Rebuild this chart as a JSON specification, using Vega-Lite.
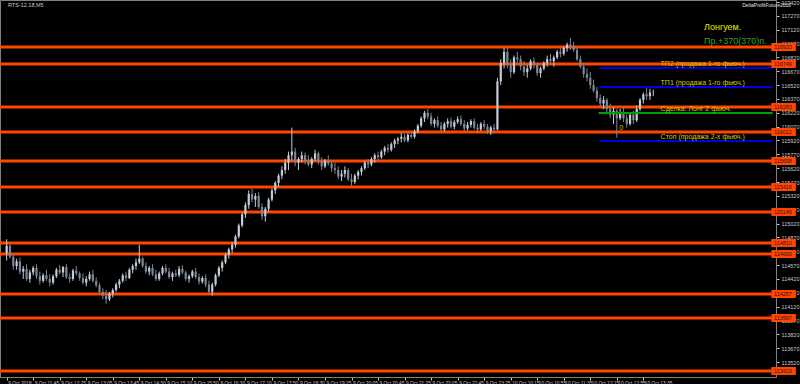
{
 "$schema": "https://vega.github.io/schema/vega-lite/v6.json",
 "width": 776, "height": 377,
 "autosize": {"type": "none"},
 "padding": {"left": 0, "top": 0, "right": 24, "bottom": 7},
 "background": "#000000",
 "config": {"view": {"stroke": "#808080", "strokeWidth": 1}, "font": "Liberation Sans",
  "axis": {"labelOverlap": false, "labelFlush": false, "labelBound": false, "grid": false, "title": null, "tickCount": 100,
   "labelColor": "#c8c8c8", "tickColor": "#c8c8c8", "tickSize": 3, "domainColor": "#808080"}},
 "datasets": {
  "candles": [
   {"i":0,"o":114700,"h":114850,"l":114620,"c":114780},{"i":1,"o":114780,"h":114800,"l":114640,"c":114660},{"i":2,"o":114660,"h":114700,"l":114520,"c":114560},{"i":3,"o":114560,"h":114640,"l":114520,"c":114610},
   {"i":4,"o":114610,"h":114650,"l":114470,"c":114500},{"i":5,"o":114500,"h":114560,"l":114420,"c":114530},{"i":6,"o":114530,"h":114580,"l":114400,"c":114420},{"i":7,"o":114420,"h":114520,"l":114380,"c":114490},
   {"i":8,"o":114490,"h":114560,"l":114460,"c":114540},{"i":9,"o":114540,"h":114580,"l":114420,"c":114450},{"i":10,"o":114450,"h":114500,"l":114360,"c":114400},{"i":11,"o":114400,"h":114480,"l":114380,"c":114460},
   {"i":12,"o":114460,"h":114520,"l":114400,"c":114420},{"i":13,"o":114420,"h":114470,"l":114340,"c":114380},{"i":14,"o":114380,"h":114470,"l":114360,"c":114450},{"i":15,"o":114450,"h":114540,"l":114430,"c":114520},
   {"i":16,"o":114520,"h":114570,"l":114470,"c":114490},{"i":17,"o":114490,"h":114560,"l":114440,"c":114550},{"i":18,"o":114550,"h":114580,"l":114420,"c":114440},{"i":19,"o":114440,"h":114480,"l":114380,"c":114420},
   {"i":20,"o":114420,"h":114530,"l":114400,"c":114510},{"i":21,"o":114510,"h":114560,"l":114460,"c":114480},{"i":22,"o":114480,"h":114500,"l":114400,"c":114430},{"i":23,"o":114430,"h":114480,"l":114360,"c":114380},
   {"i":24,"o":114380,"h":114450,"l":114340,"c":114420},{"i":25,"o":114420,"h":114500,"l":114400,"c":114470},{"i":26,"o":114470,"h":114520,"l":114380,"c":114400},{"i":27,"o":114400,"h":114440,"l":114330,"c":114350},
   {"i":28,"o":114350,"h":114380,"l":114260,"c":114280},{"i":29,"o":114280,"h":114320,"l":114200,"c":114240},{"i":30,"o":114240,"h":114300,"l":114150,"c":114200},{"i":31,"o":114200,"h":114280,"l":114180,"c":114260},
   {"i":32,"o":114260,"h":114320,"l":114220,"c":114300},{"i":33,"o":114300,"h":114380,"l":114280,"c":114360},{"i":34,"o":114360,"h":114420,"l":114320,"c":114400},{"i":35,"o":114400,"h":114480,"l":114380,"c":114460},
   {"i":36,"o":114460,"h":114500,"l":114400,"c":114430},{"i":37,"o":114430,"h":114540,"l":114420,"c":114520},{"i":38,"o":114520,"h":114580,"l":114480,"c":114560},{"i":39,"o":114560,"h":114640,"l":114520,"c":114600},
   {"i":40,"o":114600,"h":114790,"l":114580,"c":114640},{"i":41,"o":114640,"h":114660,"l":114540,"c":114560},{"i":42,"o":114560,"h":114600,"l":114480,"c":114500},{"i":43,"o":114500,"h":114560,"l":114460,"c":114540},
   {"i":44,"o":114540,"h":114580,"l":114450,"c":114470},{"i":45,"o":114470,"h":114520,"l":114400,"c":114420},{"i":46,"o":114420,"h":114500,"l":114400,"c":114480},{"i":47,"o":114480,"h":114560,"l":114460,"c":114540},
   {"i":48,"o":114540,"h":114580,"l":114480,"c":114500},{"i":49,"o":114500,"h":114540,"l":114420,"c":114440},{"i":50,"o":114440,"h":114500,"l":114400,"c":114480},{"i":51,"o":114480,"h":114520,"l":114440,"c":114460},
   {"i":52,"o":114460,"h":114560,"l":114440,"c":114530},{"i":53,"o":114530,"h":114570,"l":114470,"c":114490},{"i":54,"o":114490,"h":114510,"l":114400,"c":114420},{"i":55,"o":114420,"h":114470,"l":114380,"c":114450},
   {"i":56,"o":114450,"h":114520,"l":114430,"c":114500},{"i":57,"o":114500,"h":114540,"l":114420,"c":114440},{"i":58,"o":114440,"h":114480,"l":114360,"c":114390},{"i":59,"o":114390,"h":114450,"l":114370,"c":114430},
   {"i":60,"o":114430,"h":114470,"l":114330,"c":114360},{"i":61,"o":114360,"h":114400,"l":114250,"c":114280},{"i":62,"o":114280,"h":114380,"l":114240,"c":114360},{"i":63,"o":114360,"h":114480,"l":114340,"c":114460},
   {"i":64,"o":114460,"h":114560,"l":114440,"c":114540},{"i":65,"o":114540,"h":114620,"l":114500,"c":114600},{"i":66,"o":114600,"h":114700,"l":114580,"c":114680},{"i":67,"o":114680,"h":114760,"l":114640,"c":114740},
   {"i":68,"o":114740,"h":114820,"l":114700,"c":114790},{"i":69,"o":114790,"h":114900,"l":114760,"c":114880},{"i":70,"o":114880,"h":115020,"l":114860,"c":115000},{"i":71,"o":115000,"h":115140,"l":114980,"c":115120},
   {"i":72,"o":115120,"h":115250,"l":115080,"c":115220},{"i":73,"o":115220,"h":115380,"l":115180,"c":115340},{"i":74,"o":115340,"h":115400,"l":115250,"c":115280},{"i":75,"o":115280,"h":115350,"l":115200,"c":115320},
   {"i":76,"o":115320,"h":115360,"l":115180,"c":115200},{"i":77,"o":115200,"h":115240,"l":115060,"c":115100},{"i":78,"o":115100,"h":115200,"l":115040,"c":115180},{"i":79,"o":115180,"h":115300,"l":115150,"c":115280},
   {"i":80,"o":115280,"h":115400,"l":115260,"c":115380},{"i":81,"o":115380,"h":115480,"l":115340,"c":115460},{"i":82,"o":115460,"h":115560,"l":115420,"c":115540},{"i":83,"o":115540,"h":115640,"l":115500,"c":115600},
   {"i":84,"o":115600,"h":115720,"l":115560,"c":115680},{"i":85,"o":115680,"h":115800,"l":115600,"c":115760},{"i":86,"o":115760,"h":116060,"l":115700,"c":115800},{"i":87,"o":115800,"h":115840,"l":115640,"c":115680},
   {"i":88,"o":115680,"h":115740,"l":115600,"c":115720},{"i":89,"o":115720,"h":115800,"l":115680,"c":115760},{"i":90,"o":115760,"h":115790,"l":115660,"c":115700},{"i":91,"o":115700,"h":115760,"l":115640,"c":115660},
   {"i":92,"o":115660,"h":115740,"l":115620,"c":115720},{"i":93,"o":115720,"h":115820,"l":115700,"c":115780},{"i":94,"o":115780,"h":115800,"l":115660,"c":115690},{"i":95,"o":115690,"h":115740,"l":115600,"c":115640},
   {"i":96,"o":115640,"h":115720,"l":115620,"c":115700},{"i":97,"o":115700,"h":115760,"l":115650,"c":115670},{"i":98,"o":115670,"h":115700,"l":115580,"c":115620},{"i":99,"o":115620,"h":115680,"l":115560,"c":115600},
   {"i":100,"o":115600,"h":115640,"l":115500,"c":115530},{"i":101,"o":115530,"h":115600,"l":115480,"c":115560},{"i":102,"o":115560,"h":115640,"l":115520,"c":115600},{"i":103,"o":115600,"h":115620,"l":115480,"c":115500},
   {"i":104,"o":115500,"h":115560,"l":115430,"c":115470},{"i":105,"o":115470,"h":115560,"l":115450,"c":115540},{"i":106,"o":115540,"h":115600,"l":115500,"c":115580},{"i":107,"o":115580,"h":115640,"l":115540,"c":115620},
   {"i":108,"o":115620,"h":115700,"l":115600,"c":115680},{"i":109,"o":115680,"h":115720,"l":115620,"c":115660},{"i":110,"o":115660,"h":115740,"l":115640,"c":115720},{"i":111,"o":115720,"h":115780,"l":115680,"c":115760},
   {"i":112,"o":115760,"h":115800,"l":115700,"c":115740},{"i":113,"o":115740,"h":115820,"l":115720,"c":115800},{"i":114,"o":115800,"h":115860,"l":115760,"c":115840},{"i":115,"o":115840,"h":115880,"l":115790,"c":115820},
   {"i":116,"o":115820,"h":115900,"l":115800,"c":115880},{"i":117,"o":115880,"h":115940,"l":115840,"c":115920},{"i":118,"o":115920,"h":115960,"l":115880,"c":115940},{"i":119,"o":115940,"h":116000,"l":115900,"c":115960},
   {"i":120,"o":115960,"h":115990,"l":115900,"c":115920},{"i":121,"o":115920,"h":116000,"l":115900,"c":115980},{"i":122,"o":115980,"h":116020,"l":115940,"c":115960},{"i":123,"o":115960,"h":116040,"l":115940,"c":116020},
   {"i":124,"o":116020,"h":116100,"l":116000,"c":116080},{"i":125,"o":116080,"h":116180,"l":116060,"c":116160},{"i":126,"o":116160,"h":116240,"l":116120,"c":116220},{"i":127,"o":116220,"h":116260,"l":116150,"c":116180},
   {"i":128,"o":116180,"h":116220,"l":116080,"c":116100},{"i":129,"o":116100,"h":116160,"l":116060,"c":116140},{"i":130,"o":116140,"h":116180,"l":116060,"c":116080},{"i":131,"o":116080,"h":116120,"l":116000,"c":116040},
   {"i":132,"o":116040,"h":116120,"l":116020,"c":116100},{"i":133,"o":116100,"h":116160,"l":116060,"c":116130},{"i":134,"o":116130,"h":116170,"l":116050,"c":116070},{"i":135,"o":116070,"h":116140,"l":116040,"c":116120},
   {"i":136,"o":116120,"h":116180,"l":116100,"c":116150},{"i":137,"o":116150,"h":116190,"l":116080,"c":116100},{"i":138,"o":116100,"h":116140,"l":116020,"c":116050},{"i":139,"o":116050,"h":116120,"l":116030,"c":116090},
   {"i":140,"o":116090,"h":116150,"l":116060,"c":116130},{"i":141,"o":116130,"h":116160,"l":116040,"c":116060},{"i":142,"o":116060,"h":116100,"l":116000,"c":116040},{"i":143,"o":116040,"h":116120,"l":116020,"c":116100},
   {"i":144,"o":116100,"h":116140,"l":116040,"c":116070},{"i":145,"o":116070,"h":116100,"l":115990,"c":116020},{"i":146,"o":116020,"h":116080,"l":115980,"c":116060},{"i":147,"o":116060,"h":116100,"l":116000,"c":116040},
   {"i":148,"o":116040,"h":116600,"l":116030,"c":116560},{"i":149,"o":116560,"h":116800,"l":116520,"c":116760},{"i":150,"o":116760,"h":116920,"l":116700,"c":116880},{"i":151,"o":116880,"h":116920,"l":116700,"c":116740},
   {"i":152,"o":116740,"h":116800,"l":116600,"c":116660},{"i":153,"o":116660,"h":116840,"l":116640,"c":116820},{"i":154,"o":116820,"h":116880,"l":116760,"c":116800},{"i":155,"o":116800,"h":116840,"l":116680,"c":116720},
   {"i":156,"o":116720,"h":116780,"l":116620,"c":116660},{"i":157,"o":116660,"h":116740,"l":116600,"c":116700},{"i":158,"o":116700,"h":116800,"l":116680,"c":116780},{"i":159,"o":116780,"h":116820,"l":116700,"c":116740},
   {"i":160,"o":116740,"h":116760,"l":116620,"c":116650},{"i":161,"o":116650,"h":116720,"l":116600,"c":116700},{"i":162,"o":116700,"h":116780,"l":116680,"c":116760},{"i":163,"o":116760,"h":116840,"l":116720,"c":116800},
   {"i":164,"o":116800,"h":116860,"l":116740,"c":116780},{"i":165,"o":116780,"h":116840,"l":116720,"c":116820},{"i":166,"o":116820,"h":116900,"l":116800,"c":116880},{"i":167,"o":116880,"h":116920,"l":116820,"c":116860},
   {"i":168,"o":116860,"h":116940,"l":116840,"c":116920},{"i":169,"o":116920,"h":116980,"l":116880,"c":116960},{"i":170,"o":116960,"h":117030,"l":116900,"c":116940},{"i":171,"o":116940,"h":116990,"l":116880,"c":116900},
   {"i":172,"o":116900,"h":116940,"l":116780,"c":116800},{"i":173,"o":116800,"h":116840,"l":116700,"c":116720},{"i":174,"o":116720,"h":116760,"l":116600,"c":116640},{"i":175,"o":116640,"h":116700,"l":116560,"c":116600},
   {"i":176,"o":116600,"h":116660,"l":116480,"c":116520},{"i":177,"o":116520,"h":116580,"l":116440,"c":116460},{"i":178,"o":116460,"h":116500,"l":116340,"c":116380},{"i":179,"o":116380,"h":116420,"l":116280,"c":116320},
   {"i":180,"o":116320,"h":116400,"l":116260,"c":116360},{"i":181,"o":116360,"h":116380,"l":116220,"c":116260},{"i":182,"o":116260,"h":116320,"l":116160,"c":116200},{"i":183,"o":116200,"h":116280,"l":116100,"c":116240},
   {"i":184,"o":116240,"h":116260,"l":115950,"c":116160},{"i":185,"o":116160,"h":116260,"l":116140,"c":116220},{"i":186,"o":116220,"h":116280,"l":116120,"c":116160},{"i":187,"o":116160,"h":116200,"l":116060,"c":116100},
   {"i":188,"o":116100,"h":116220,"l":116080,"c":116200},{"i":189,"o":116200,"h":116240,"l":116100,"c":116140},{"i":190,"o":116140,"h":116300,"l":116120,"c":116260},{"i":191,"o":116260,"h":116380,"l":116240,"c":116360},
   {"i":192,"o":116360,"h":116440,"l":116320,"c":116420},{"i":193,"o":116420,"h":116500,"l":116360,"c":116400},{"i":194,"o":116400,"h":116480,"l":116360,"c":116440},{"i":195,"o":116440,"h":116470,"l":116400,"c":116440}
  ],
  "levels": [{"p":116933},{"p":116749},{"p":116283},{"p":116012},{"p":115698},{"p":115416},{"p":115145},{"p":114810},{"p":114690},{"p":114257},{"p":113997},{"p":113423}],
  "blue": [{"p":116705,"t":"ТП2 (продажа 1-го фьюч.)"},{"p":116500,"t":"ТП1 (продажа 1-го фьюч.)"},{"p":115915,"t":"Стоп (продажа 2-х фьюч.)"}],
  "green": [{"p":116218,"t":"Сделка: Лонг 2 фьюч."}]
 },
 "layer": [
  {"data": {"name": "levels"}, "mark": {"type": "rule", "color": "#ff4500", "strokeWidth": 3},
   "encoding": {"y": {"field": "p", "type": "quantitative",
     "scale": {"domain": [113358, 117442], "nice": false, "zero": false},
     "axis": {"orient": "right", "format": "d", "tickCount": 100,
      "values": [117420,117270,117120,116970,116820,116670,116520,116370,116220,116070,115920,115770,115620,115470,115320,115170,115020,114870,114720,114570,114420,114270,114120,113970,113820,113670,113520],
      "labelFontSize": 5.5, "labelPadding": 2}}}},
  {"data": {"name": "candles"}, "mark": {"type": "rule", "strokeWidth": 1},
   "encoding": {
    "x": {"field": "i", "type": "quantitative",
     "scale": {"domain": [-0.5, 230.5], "nice": false, "zero": false},
     "axis": {"orient": "bottom", "tickCount": 100,
      "values": [0,8,16,24,32,40,48,56,64,72,80,88,96,104,112,120,128,136,144,152,160,168,176,184,192],
      "labelExpr": "['9 Oct 2018','9 Oct 11:45','9 Oct 12:25','9 Oct 13:05','9 Oct 13:45','9 Oct 14:30','9 Oct 15:10','9 Oct 15:50','9 Oct 16:30','9 Oct 17:10','9 Oct 17:50','9 Oct 18:30','9 Oct 19:25','9 Oct 20:05','9 Oct 20:45','9 Oct 21:25','9 Oct 22:05','9 Oct 22:45','9 Oct 23:25','10 Oct 10:15','10 Oct 10:55','10 Oct 11:35','10 Oct 12:15','10 Oct 12:55','10 Oct 13:35'][round(datum.value/8)]",
      "labelAlign": "left", "labelFontSize": 4.8, "labelPadding": 0, "labelOffset": 1}},
    "y": {"field": "l", "type": "quantitative"}, "y2": {"field": "h"},
    "color": {"condition": {"test": "datum.c >= datum.o", "value": "#c4ccd6"}, "value": "#7a8898"}}},
  {"data": {"name": "candles"}, "mark": {"type": "bar", "size": 2.2},
   "encoding": {"x": {"field": "i", "type": "quantitative"}, "y": {"field": "o", "type": "quantitative"}, "y2": {"field": "c"},
    "color": {"condition": {"test": "datum.c >= datum.o", "value": "#c4ccd6"}, "value": "#7a8898"}}},
  {"data": {"name": "blue"}, "mark": {"type": "rule", "color": "#0000e6", "strokeWidth": 2, "clip": false},
   "encoding": {"x": {"datum": 178.7, "type": "quantitative"}, "x2": {"datum": 231}, "y": {"field": "p", "type": "quantitative"}}},
  {"data": {"name": "green"}, "mark": {"type": "rule", "color": "#00a000", "strokeWidth": 2, "clip": false},
   "encoding": {"x": {"datum": 178.5, "type": "quantitative"}, "x2": {"datum": 231}, "y": {"field": "p", "type": "quantitative"}}},
  {"data": {"name": "levels"}, "mark": {"type": "rule", "color": "#ff4500", "strokeWidth": 8, "strokeCap": "butt", "clip": false},
   "encoding": {"x": {"datum": 230.6, "type": "quantitative"}, "x2": {"datum": 238}, "y": {"field": "p", "type": "quantitative"}}},
  {"data": {"name": "levels"}, "mark": {"type": "text", "color": "#3a1000", "fontSize": 5.5, "align": "left", "baseline": "middle", "clip": false},
   "encoding": {"x": {"datum": 231.4, "type": "quantitative"}, "y": {"field": "p", "type": "quantitative"}, "text": {"field": "p", "type": "quantitative", "format": "d"}}},
  {"data": {"name": "blue"}, "mark": {"type": "text", "color": "#dcc800", "fontSize": 7, "align": "left", "baseline": "bottom", "dy": -1},
   "encoding": {"x": {"datum": 197.2, "type": "quantitative"}, "y": {"field": "p", "type": "quantitative"}, "text": {"field": "t"}}},
  {"data": {"name": "green"}, "mark": {"type": "text", "color": "#dcc800", "fontSize": 7, "align": "left", "baseline": "bottom", "dy": -1},
   "encoding": {"x": {"datum": 197.2, "type": "quantitative"}, "y": {"field": "p", "type": "quantitative"}, "text": {"field": "t"}}},
  {"data": {"values": [{}]}, "mark": {"type": "text", "color": "#e8e800", "fontSize": 9, "align": "left", "baseline": "middle"},
   "encoding": {"x": {"datum": 210.3, "type": "quantitative"}, "y": {"datum": 117150, "type": "quantitative"}, "text": {"value": "Лонгуем."}}},
  {"data": {"values": [{}]}, "mark": {"type": "text", "color": "#2ea02e", "fontSize": 9, "align": "left", "baseline": "middle"},
   "encoding": {"x": {"datum": 210.3, "type": "quantitative"}, "y": {"datum": 116998, "type": "quantitative"}, "text": {"value": "Пр.+370(370)п."}}},
  {"data": {"values": [{}]}, "mark": {"type": "text", "color": "#c8c8c8", "fontSize": 5.5, "align": "left", "baseline": "middle"},
   "encoding": {"x": {"datum": 0.4, "type": "quantitative"}, "y": {"datum": 117385, "type": "quantitative"}, "text": {"value": "RTS-12.18,M5"}}},
  {"data": {"values": [{}]}, "mark": {"type": "text", "color": "#e0e0e0", "fontSize": 5, "align": "left", "baseline": "middle"},
   "encoding": {"x": {"datum": 221.8, "type": "quantitative"}, "y": {"datum": 117385, "type": "quantitative"}, "text": {"value": "DeltaProfitFuture2018"}}},
  {"data": {"values": [{}]}, "mark": {"type": "text", "color": "#dcc800", "fontSize": 7, "align": "center", "baseline": "middle"},
   "encoding": {"x": {"datum": 185.3, "type": "quantitative"}, "y": {"datum": 116055, "type": "quantitative"}, "text": {"value": "0"}}}
 ]
}
